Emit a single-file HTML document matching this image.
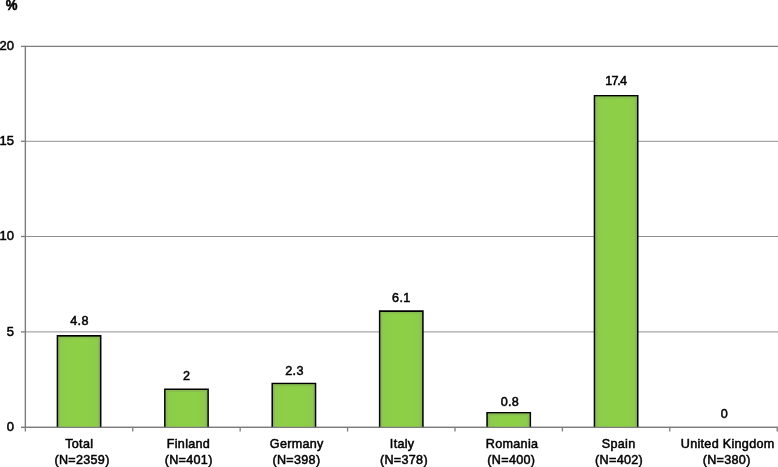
<!DOCTYPE html><html><head><meta charset="utf-8"><style>html,body{margin:0;padding:0;background:#fff;overflow:hidden;}svg{display:block;}text{font-family:"Liberation Sans",sans-serif;fill:#000;}</style></head><body>
<svg width="778" height="467" viewBox="0 0 778 467">
<defs><linearGradient id="g" x1="0" x2="1" y1="0" y2="0"><stop offset="0" stop-color="#8fc752"/><stop offset="0.2" stop-color="#8dce48"/><stop offset="0.5" stop-color="#8dd046"/><stop offset="0.8" stop-color="#8dce48"/><stop offset="1" stop-color="#8fc752"/></linearGradient></defs>
<rect width="778" height="467" fill="#fff"/>
<line x1="25.35" x2="778" y1="46.40" y2="46.40" stroke="#7c7c7c" stroke-width="1.3"/>
<line x1="21" x2="25.35" y1="46.40" y2="46.40" stroke="#7c7c7c" stroke-width="1.3"/>
<line x1="25.35" x2="778" y1="141.30" y2="141.30" stroke="#7c7c7c" stroke-width="0.85"/>
<line x1="21" x2="25.35" y1="141.30" y2="141.30" stroke="#7c7c7c" stroke-width="1.3"/>
<line x1="25.35" x2="778" y1="236.50" y2="236.50" stroke="#7c7c7c" stroke-width="0.85"/>
<line x1="21" x2="25.35" y1="236.50" y2="236.50" stroke="#7c7c7c" stroke-width="1.3"/>
<line x1="25.35" x2="778" y1="331.90" y2="331.90" stroke="#7c7c7c" stroke-width="0.85"/>
<line x1="21" x2="25.35" y1="331.90" y2="331.90" stroke="#7c7c7c" stroke-width="1.3"/>
<line x1="25.35" x2="778" y1="427.40" y2="427.40" stroke="#7c7c7c" stroke-width="1.3"/>
<line x1="21" x2="25.35" y1="427.40" y2="427.40" stroke="#7c7c7c" stroke-width="1.3"/>
<line x1="25.35" x2="25.35" y1="45.75" y2="427.4" stroke="#7c7c7c" stroke-width="1.4"/>
<line x1="25.35" x2="25.35" y1="427.4" y2="431.5" stroke="#7c7c7c" stroke-width="1.3"/>
<line x1="132.76" x2="132.76" y1="427.4" y2="431.5" stroke="#7c7c7c" stroke-width="1.3"/>
<line x1="240.17" x2="240.17" y1="427.4" y2="431.5" stroke="#7c7c7c" stroke-width="1.3"/>
<line x1="347.58" x2="347.58" y1="427.4" y2="431.5" stroke="#7c7c7c" stroke-width="1.3"/>
<line x1="454.99" x2="454.99" y1="427.4" y2="431.5" stroke="#7c7c7c" stroke-width="1.3"/>
<line x1="562.40" x2="562.40" y1="427.4" y2="431.5" stroke="#7c7c7c" stroke-width="1.3"/>
<line x1="669.81" x2="669.81" y1="427.4" y2="431.5" stroke="#7c7c7c" stroke-width="1.3"/>
<line x1="777.22" x2="777.22" y1="427.4" y2="431.5" stroke="#7c7c7c" stroke-width="1.3"/>
<g style="filter:grayscale(1)" stroke="#000" stroke-width="0.5">
<text x="14.3" y="49.90" font-size="13" letter-spacing="0.2" text-anchor="end">20</text>
<text x="14.3" y="145.10" font-size="13" letter-spacing="0.2" text-anchor="end">15</text>
<text x="14.3" y="240.35" font-size="13" letter-spacing="0.2" text-anchor="end">10</text>
<text x="14.3" y="335.60" font-size="13" letter-spacing="0.2" text-anchor="end">5</text>
<text x="14.3" y="431.00" font-size="13" letter-spacing="0.2" text-anchor="end">0</text>
<text transform="translate(5.7,10.3) scale(0.93,1)" font-size="14.2" font-weight="bold" stroke-width="0.5">%</text>
<text x="79.50" y="325.30" font-size="12.6" letter-spacing="0.3" text-anchor="middle">4.8</text>
<text x="79.25" y="448.1" font-size="12.6" letter-spacing="0.3" text-anchor="middle">Total</text>
<text x="82.05" y="464.1" font-size="12.6" letter-spacing="0.3" text-anchor="middle">(N=2359)</text>
<text x="186.70" y="380.05" font-size="12.6" letter-spacing="0.3" text-anchor="middle">2</text>
<text x="188.45" y="448.1" font-size="12.6" letter-spacing="0.3" text-anchor="middle">Finland</text>
<text x="188.70" y="464.1" font-size="12.6" letter-spacing="0.3" text-anchor="middle">(N=401)</text>
<text x="294.50" y="374.85" font-size="12.6" letter-spacing="0.3" text-anchor="middle">2.3</text>
<text x="296.77" y="448.1" font-size="12.6" letter-spacing="0.3" text-anchor="middle">Germany</text>
<text x="296.45" y="464.1" font-size="12.6" letter-spacing="0.3" text-anchor="middle">(N=398)</text>
<text x="401.30" y="301.75" font-size="12.6" letter-spacing="0.3" text-anchor="middle">6.1</text>
<text x="402.15" y="448.1" font-size="12.6" letter-spacing="0.3" text-anchor="middle">Italy</text>
<text x="403.95" y="464.1" font-size="12.6" letter-spacing="0.3" text-anchor="middle">(N=378)</text>
<text x="509.95" y="405.85" font-size="12.6" letter-spacing="0.3" text-anchor="middle">0.8</text>
<text x="512.05" y="448.1" font-size="12.6" letter-spacing="0.3" text-anchor="middle">Romania</text>
<text x="511.35" y="464.1" font-size="12.6" letter-spacing="0.3" text-anchor="middle">(N=400)</text>
<text x="616.30" y="85.00" font-size="12.6" letter-spacing="0.3" text-anchor="middle">1<tspan dx="-0.9">7</tspan><tspan dx="-1.6">.</tspan><tspan dx="-1.0">4</tspan></text>
<text x="618.65" y="448.1" font-size="12.6" letter-spacing="0.3" text-anchor="middle">Spain</text>
<text x="619.10" y="464.1" font-size="12.6" letter-spacing="0.3" text-anchor="middle">(N=402)</text>
<text x="724.30" y="417.75" font-size="12.6" letter-spacing="0.3" text-anchor="middle">0</text>
<text x="727.65" y="448.1" font-size="12.6" letter-spacing="0.3" text-anchor="middle">United Kingdom</text>
<text x="726.67" y="464.1" font-size="12.6" letter-spacing="0.3" text-anchor="middle">(N=380)</text>
</g>
<path d="M57.46 427.4 V335.91 H100.66 V427.4" fill="url(#g)" stroke="#000" stroke-width="1.6" stroke-linejoin="miter"/>
<path d="M59.16 427.4 V337.61 H98.95 V427.4" fill="none" stroke="#85b157" stroke-opacity="0.55" stroke-width="1.9"/>
<path d="M164.87 427.4 V389.28 H208.06 V427.4" fill="url(#g)" stroke="#000" stroke-width="1.6" stroke-linejoin="miter"/>
<path d="M166.56 427.4 V390.98 H206.37 V427.4" fill="none" stroke="#85b157" stroke-opacity="0.55" stroke-width="1.9"/>
<path d="M272.27 427.4 V383.56 H315.48 V427.4" fill="url(#g)" stroke="#000" stroke-width="1.6" stroke-linejoin="miter"/>
<path d="M273.97 427.4 V385.26 H313.78 V427.4" fill="none" stroke="#85b157" stroke-opacity="0.55" stroke-width="1.9"/>
<path d="M379.69 427.4 V311.13 H422.89 V427.4" fill="url(#g)" stroke="#000" stroke-width="1.6" stroke-linejoin="miter"/>
<path d="M381.38 427.4 V312.83 H421.19 V427.4" fill="none" stroke="#85b157" stroke-opacity="0.55" stroke-width="1.9"/>
<path d="M487.09 427.4 V412.80 H530.29 V427.4" fill="url(#g)" stroke="#000" stroke-width="1.6" stroke-linejoin="miter"/>
<path d="M488.79 427.4 V414.50 H528.59 V427.4" fill="none" stroke="#85b157" stroke-opacity="0.55" stroke-width="1.9"/>
<path d="M594.50 427.4 V95.76 H637.71 V427.4" fill="url(#g)" stroke="#000" stroke-width="1.6" stroke-linejoin="miter"/>
<path d="M596.21 427.4 V97.46 H636.00 V427.4" fill="none" stroke="#85b157" stroke-opacity="0.55" stroke-width="1.9"/>
<line x1="21" x2="778" y1="427.4" y2="427.4" stroke="#7c7c7c" stroke-width="1.3"/>
</svg></body></html>
